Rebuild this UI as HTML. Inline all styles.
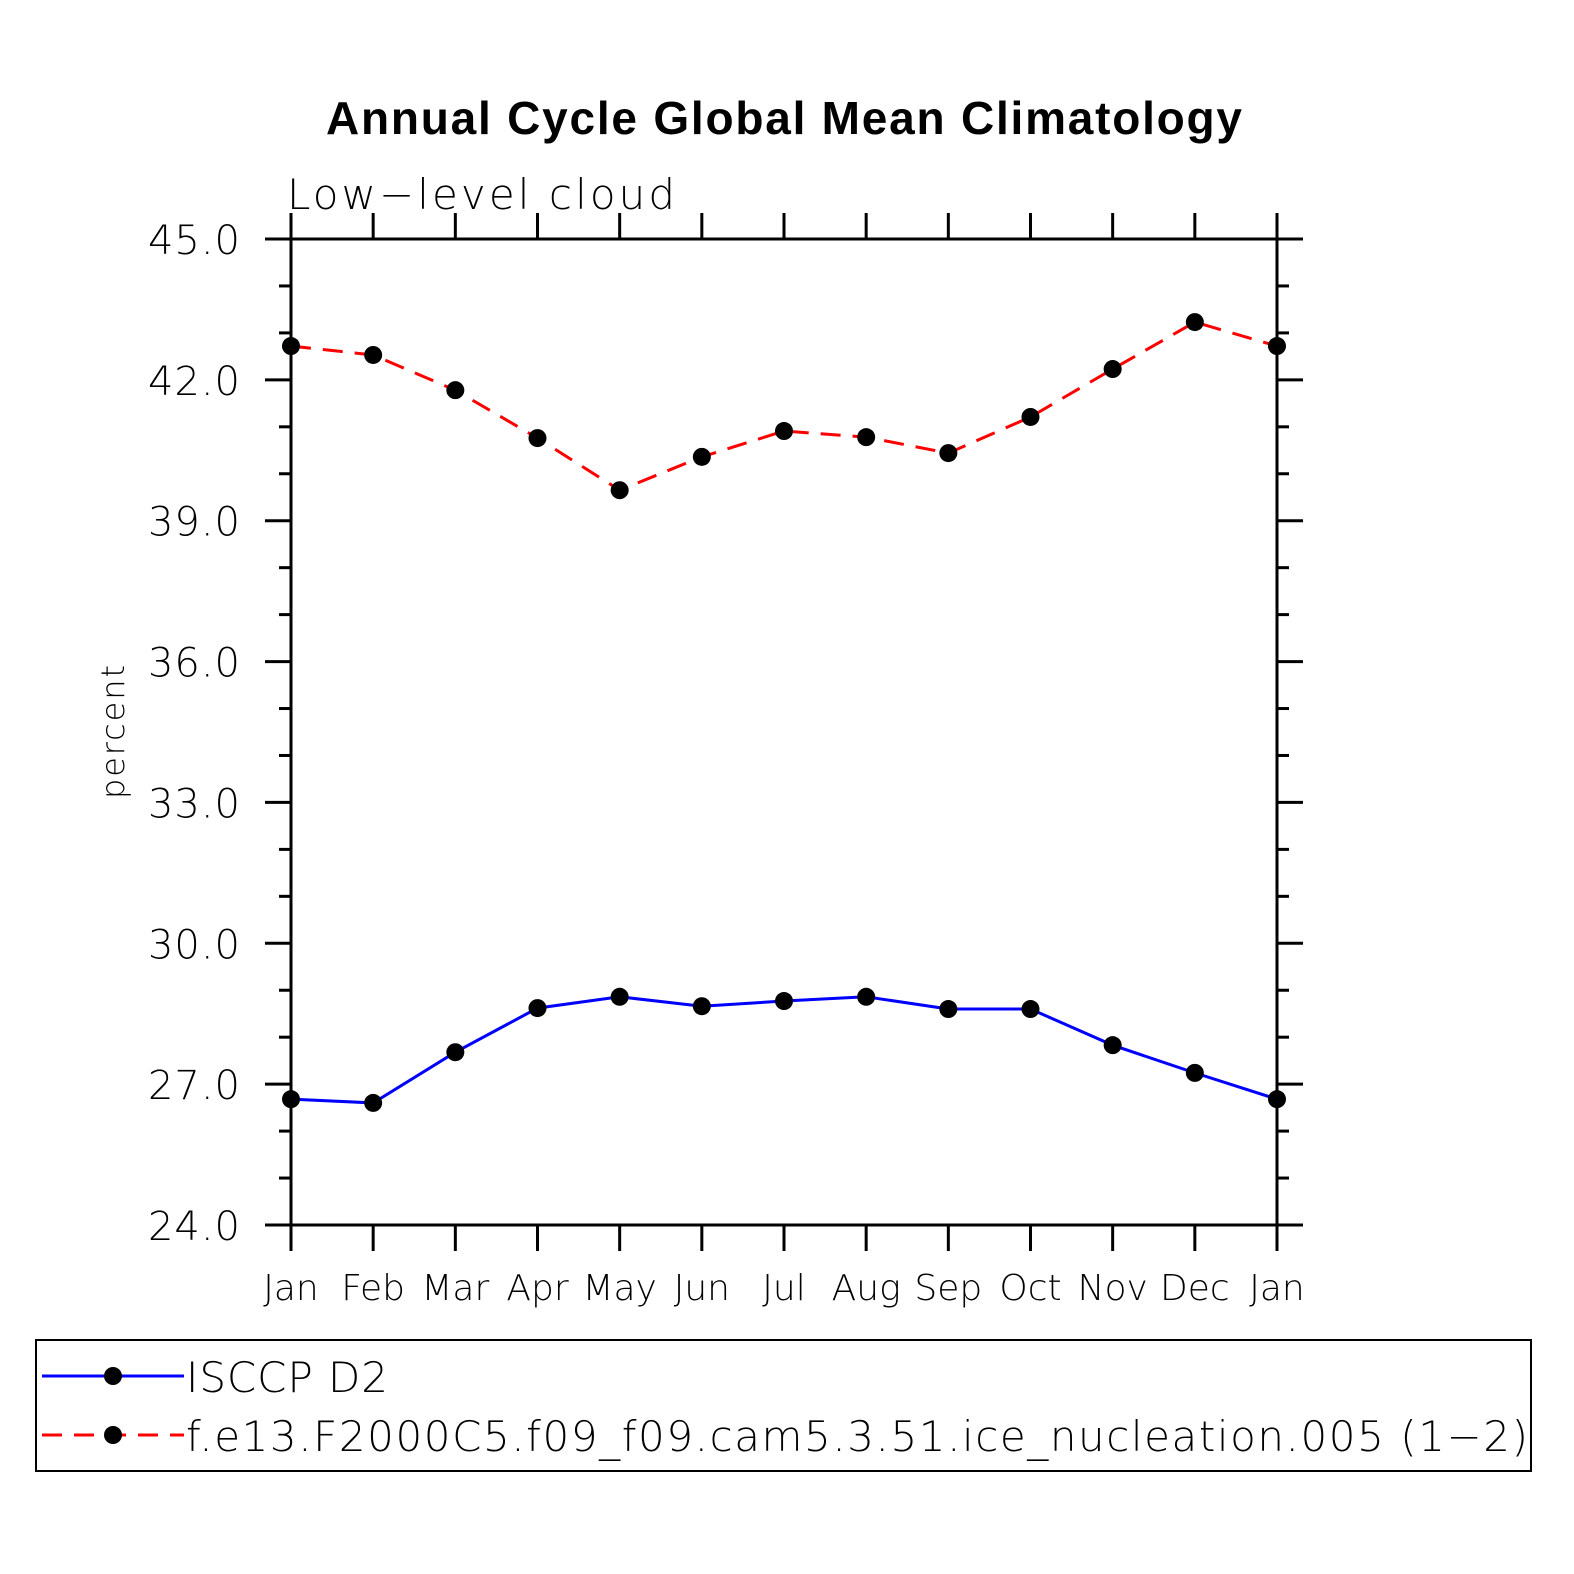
<!DOCTYPE html>
<html><head><meta charset="utf-8"><style>
html,body{margin:0;padding:0;background:#fff;overflow:hidden;width:1574px;height:1574px}
svg{display:block}
text{font-family:"DejaVu Sans","Liberation Sans",sans-serif;font-weight:200;fill:#000}
</style></head><body>
<svg id="chart" width="1574" height="1574" viewBox="0 0 1574 1574">
<text x="784" y="134" text-anchor="middle" style="font-family:'Liberation Sans',sans-serif;font-weight:bold;font-size:46px" textLength="916">Annual Cycle Global Mean Climatology</text>
<text x="287" y="209" style="font-size:42px" textLength="388">Low−level cloud</text>
<text x="0" y="0" transform="translate(124,732) rotate(-90)" text-anchor="middle" style="font-size:32px" textLength="134">percent</text>
<g id="axes"></g>
<g id="series"></g>
<g>
<rect x="36" y="1340" width="1495" height="131" fill="none" stroke="#000" stroke-width="2"/>
<line x1="42" y1="1376" x2="184" y2="1376" stroke="#00f" stroke-width="3"/>
<circle cx="113" cy="1376" r="9" fill="#000"/>
<text x="186" y="1392" style="font-size:42px" textLength="202">ISCCP D2</text>
<line x1="42" y1="1435" x2="184" y2="1435" stroke="#f00" stroke-width="3" stroke-dasharray="20,12"/>
<circle cx="113" cy="1435" r="9" fill="#000"/>
<text x="186" y="1451" style="font-size:42px" textLength="1342">f.e13.F2000C5.f09_f09.cam5.3.51.ice_nucleation.005 (1−2)</text>
</g>
</svg>
<script>
const months=["Jan","Feb","Mar","Apr","May","Jun","Jul","Aug","Sep","Oct","Nov","Dec","Jan"];
const yTicks=[24,27,30,33,36,39,42,45];
const yTickLabels=["24.0","27.0","30.0","33.0","36.0","39.0","42.0","45.0"];
const isccpValues=[26.68,26.60,27.68,28.62,28.86,28.66,28.77,28.86,28.60,28.60,27.83,27.24,26.68];
const modelValues=[42.72,42.53,41.78,40.76,39.65,40.36,40.91,40.78,40.44,41.21,42.23,43.23,42.72];
const X0=291,X1=1277,Y0=1225,Y1=239,YMIN=24,YMAX=45;
function xs(i){return X0+(X1-X0)*i/(months.length-1);}
function ys(v){return Y0-(v-YMIN)/(YMAX-YMIN)*(Y0-Y1);}
const NS="http://www.w3.org/2000/svg";
function mk(tag,attrs,parent){const e=document.createElementNS(NS,tag);for(const k in attrs)e.setAttribute(k,attrs[k]);parent.appendChild(e);return e;}
const ax=document.getElementById('axes');
const frame=mk('rect',{x:X0,y:Y1,width:X1-X0,height:Y0-Y1,fill:'none',stroke:'#000','stroke-width':3},ax);


for(let v=YMIN;v<=YMAX;v++){
  const y=ys(v);const major=(v-YMIN)%3===0;const L=major?26:12;
  const t1=mk('line',{x1:X0-L,y1:y,x2:X0,y2:y,stroke:'#000','stroke-width':3},ax);
  
  
  const t2=mk('line',{x1:X1,y1:y,x2:X1+L,y2:y,stroke:'#000','stroke-width':3},ax);
  
  
}
yTicks.forEach((v,i)=>{
  const t=mk('text',{x:240,y:ys(v)+15,'text-anchor':'end','font-size':40,textLength:92},ax);
  t.textContent=yTickLabels[i];
  
  
});
months.forEach((m,i)=>{
  const x=xs(i);
  const a=mk('line',{x1:x,y1:Y1-26,x2:x,y2:Y1,stroke:'#000','stroke-width':3},ax);
  
  
  const b=mk('line',{x1:x,y1:Y0,x2:x,y2:Y0+26,stroke:'#000','stroke-width':3},ax);
  
  
  const t=mk('text',{x:x,y:1300,'text-anchor':'middle','font-size':36},ax);
  t.textContent=m;
  
  
});
const sg=document.getElementById('series');
function drawSeries(vals,color,dash,name){
  const pts=vals.map((v,i)=>xs(i)+','+ys(v)).join(' ');
  const attrs={points:pts,fill:'none',stroke:color,'stroke-width':3};
  if(dash)attrs['stroke-dasharray']=dash;
  const pl=mk('polyline',attrs,sg);
  
  
  vals.forEach((v,i)=>{
    const c=mk('circle',{cx:xs(i),cy:ys(v),r:9,fill:'#000'},sg);
    
    
  });
}
drawSeries(isccpValues,'#00f',null,'isccp');
drawSeries(modelValues,'#f00','20,12','model');
</script>
</body></html>
